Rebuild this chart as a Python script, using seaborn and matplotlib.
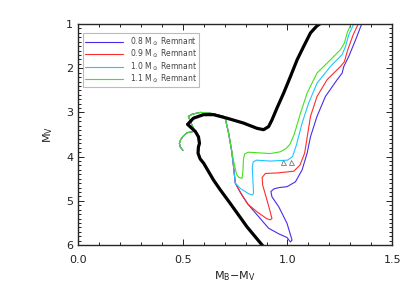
import numpy as np
import pandas as pd
import matplotlib
matplotlib.use("Agg")
import matplotlib.pyplot as plt
from matplotlib.ticker import MultipleLocator
import seaborn as sns

# isochrone (thick black)
iso_bv = [0.900, 0.886, 0.807, 0.727, 0.679, 0.647, 0.600, 0.583, 0.573, 0.575,
          0.580, 0.575, 0.560, 0.523, 0.551, 0.599, 0.647, 0.711, 0.790, 0.855,
          0.886, 0.910, 0.926, 0.950, 0.982, 1.014, 1.046, 1.077, 1.110, 1.141, 1.160]
iso_mv = [6.10, 6.04, 5.59, 5.06, 4.75, 4.53, 4.15, 4.05, 3.92, 3.78,
          3.70, 3.55, 3.43, 3.27, 3.13, 3.05, 3.05, 3.13, 3.24, 3.36,
          3.39, 3.32, 3.17, 2.90, 2.56, 2.19, 1.81, 1.51, 1.20, 1.04, 0.98]

# remnant tracks
g11_bv = [0.501, 0.488, 0.484, 0.490, 0.500, 0.520, 0.551, 0.556, 0.527, 0.545,
          0.583, 0.620, 0.647, 0.695, 0.703, 0.719, 0.733, 0.745, 0.757, 0.767,
          0.783, 0.788, 0.790, 0.796, 0.812, 0.850, 0.918, 0.966, 0.992, 1.012,
          1.032, 1.062, 1.094, 1.141, 1.205, 1.253, 1.272, 1.285, 1.305]
g11_mv = [3.86, 3.78, 3.70, 3.62, 3.55, 3.46, 3.43, 3.42, 3.09, 3.04,
          3.00, 3.01, 3.03, 3.09, 3.13, 3.47, 3.85, 4.15, 4.40, 4.47,
          4.49, 4.30, 4.05, 3.94, 3.90, 3.91, 3.93, 3.89, 3.82, 3.72,
          3.50, 3.02, 2.56, 2.11, 1.81, 1.58, 1.43, 1.20, 0.98]

c10_bv = [0.501, 0.488, 0.484, 0.490, 0.500, 0.520, 0.551, 0.556, 0.527, 0.545,
          0.583, 0.620, 0.647, 0.695, 0.703, 0.719, 0.733, 0.742, 0.751, 0.775,
          0.815, 0.834, 0.838, 0.835, 0.832, 0.836, 0.852, 0.918, 1.000, 1.024,
          1.042, 1.070, 1.101, 1.141, 1.205, 1.261, 1.277, 1.293, 1.318]
c10_mv = [3.86, 3.78, 3.70, 3.62, 3.55, 3.46, 3.43, 3.42, 3.09, 3.04,
          3.00, 3.01, 3.03, 3.09, 3.13, 3.47, 3.85, 4.20, 4.60, 4.72,
          4.84, 4.87, 4.82, 4.53, 4.25, 4.12, 4.08, 4.10, 4.08, 4.00,
          3.75, 3.24, 2.79, 2.34, 1.96, 1.69, 1.51, 1.24, 0.98]

r09_bv = [0.501, 0.488, 0.484, 0.490, 0.500, 0.520, 0.551, 0.556, 0.527, 0.545,
          0.583, 0.620, 0.647, 0.695, 0.703, 0.719, 0.733, 0.742, 0.751, 0.780,
          0.810, 0.855, 0.900, 0.918, 0.926, 0.915, 0.902, 0.882, 0.879, 0.895,
          0.950, 1.030, 1.060, 1.082, 1.110, 1.141, 1.189, 1.253, 1.272, 1.288,
          1.314, 1.340]
r09_mv = [3.86, 3.78, 3.70, 3.62, 3.55, 3.46, 3.43, 3.42, 3.09, 3.04,
          3.00, 3.01, 3.03, 3.09, 3.13, 3.47, 3.85, 4.20, 4.60, 4.85,
          5.07, 5.25, 5.40, 5.43, 5.40, 5.20, 4.98, 4.65, 4.47, 4.38,
          4.37, 4.33, 4.19, 3.92, 3.09, 2.64, 2.26, 1.96, 1.85, 1.58,
          1.24, 0.98]

b08_bv = [0.501, 0.488, 0.484, 0.490, 0.500, 0.520, 0.551, 0.556, 0.527, 0.545,
          0.583, 0.620, 0.647, 0.695, 0.703, 0.719, 0.733, 0.742, 0.751, 0.780,
          0.812, 0.870, 0.910, 0.960, 0.998, 1.014, 1.022, 1.010, 0.998, 0.958,
          0.926, 0.921, 0.935, 0.960, 0.998, 1.038, 1.070, 1.094, 1.110, 1.141,
          1.181, 1.237, 1.261, 1.269, 1.293, 1.325, 1.356]
b08_mv = [3.86, 3.78, 3.70, 3.62, 3.55, 3.46, 3.43, 3.42, 3.09, 3.04,
          3.00, 3.01, 3.03, 3.09, 3.13, 3.47, 3.85, 4.20, 4.60, 4.85,
          5.08, 5.40, 5.62, 5.75, 5.83, 5.93, 5.89, 5.70, 5.51, 5.13,
          4.91, 4.79, 4.73, 4.70, 4.68, 4.57, 4.30, 3.92, 3.55, 3.09,
          2.64, 2.26, 2.11, 1.96, 1.73, 1.36, 0.98]

tri_bv = [0.979, 1.017]
tri_mv = [4.13, 4.13]

labels = [r"0.8 M$_\odot$ Remnant", r"0.9 M$_\odot$ Remnant",
          r"1.0 M$_\odot$ Remnant", r"1.1 M$_\odot$ Remnant"]
colors = ["#4a2be8", "#ff2b2b", "#1ec6ff", "#45e01e"]

tracks = []
for lab, bv, mv in zip(labels, [b08_bv, r09_bv, c10_bv, g11_bv], [b08_mv, r09_mv, c10_mv, g11_mv]):
    tracks.append(pd.DataFrame({"bv": bv, "mv": mv, "track": lab}))
df = pd.concat(tracks, ignore_index=True)

sns.set_style("ticks")
plt.rcParams["font.family"] = ["DejaVu Sans"]
plt.rcParams["mathtext.default"] = "regular"

fig = plt.figure(figsize=(4.15, 2.97), dpi=100)
ax = fig.add_axes([0.188, 0.175, 0.757, 0.744])

sns.lineplot(data=df, x="bv", y="mv", hue="track", palette=colors, sort=False,
             estimator=None, lw=0.8, ax=ax)
sns.lineplot(x=iso_bv, y=iso_mv, sort=False, estimator=None, color="black", lw=2.3, ax=ax)
ax.plot(tri_bv, tri_mv, ls="none", marker="^", ms=3.6, mfc="none", mec="#777777", mew=0.6)

ax.set_xlim(0, 1.5)
ax.set_ylim(6, 1)
ax.xaxis.set_major_locator(MultipleLocator(0.5))
ax.xaxis.set_minor_locator(MultipleLocator(0.1))
ax.yaxis.set_major_locator(MultipleLocator(1))
ax.yaxis.set_minor_locator(MultipleLocator(0.1))
ax.set_xticklabels([f"{v:.1f}" for v in ax.get_xticks()])
ax.tick_params(which="both", direction="in", top=True, right=True, width=0.7,
               labelsize=8, colors="#222222")
ax.tick_params(which="major", length=4)
ax.tick_params(which="minor", length=2)
ax.tick_params(axis="x", which="major", pad=7)
ax.tick_params(axis="y", which="major", pad=3.5)
for s in ax.spines.values():
    s.set_linewidth(1.0)

ax.set_xlabel(r"M$_B$$-$M$_V$", fontsize=8, color="#222222", labelpad=3)
ax.set_ylabel(r"M$_V$", fontsize=8, color="#222222", labelpad=8)

leg = ax.legend(loc="upper left", bbox_to_anchor=(0.016, 0.96), borderaxespad=0,
                fontsize=5.5, frameon=True, fancybox=False, handlelength=4.9,
                labelspacing=0.0, handletextpad=0.9, borderpad=0.3)
leg.get_frame().set_edgecolor("#aaaaaa")
leg.get_frame().set_linewidth(0.8)
for t in leg.get_texts():
    t.set_color("#444444")

fig.savefig("out.png", dpi=100)
